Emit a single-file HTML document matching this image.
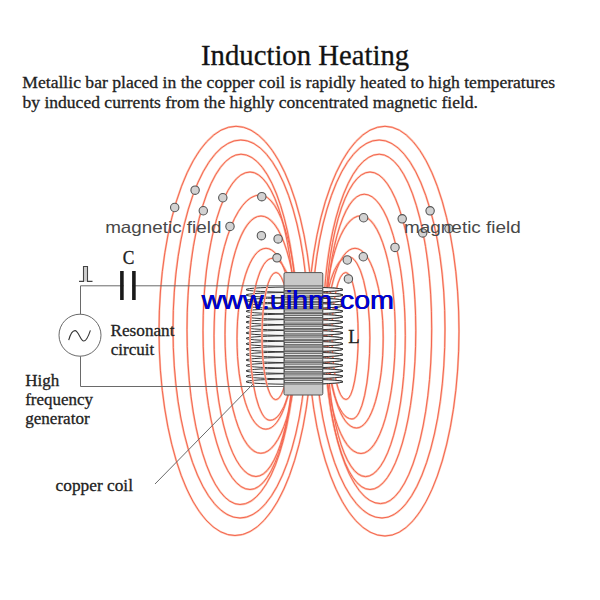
<!DOCTYPE html>
<html><head><meta charset="utf-8"><style>
html,body{margin:0;padding:0;background:#fff;}
svg{display:block;}
.serif{font-family:"Liberation Serif",serif;stroke:#222;stroke-width:0.3px;}
.sans{font-family:"Liberation Sans",sans-serif;}
</style></head><body>
<svg width="600" height="600" viewBox="0 0 600 600">
<rect width="600" height="600" fill="#fff"/>
<text class="serif" x="201" y="65" font-size="28.5" fill="#111" textLength="208.2" lengthAdjust="spacingAndGlyphs">Induction Heating</text>
<text class="serif" x="22.3" y="88.3" font-size="17.5" fill="#222" textLength="532.8" lengthAdjust="spacingAndGlyphs">Metallic bar placed in the copper coil is rapidly heated to high temperatures</text>
<text class="serif" x="22.5" y="108.3" font-size="17.5" fill="#222" textLength="455.5" lengthAdjust="spacingAndGlyphs">by induced currents from the highly concentrated magnetic field.</text>

<!-- coil windings (back) -->
<g fill="#f6f6f6" stroke="#353535" stroke-width="1">
<ellipse cx="294.5" cy="289.60" rx="48.5" ry="2.6"/>
<ellipse cx="294.5" cy="295.02" rx="48.5" ry="2.6"/>
<ellipse cx="294.5" cy="300.44" rx="48.5" ry="2.6"/>
<ellipse cx="294.5" cy="305.85" rx="48.5" ry="2.6"/>
<ellipse cx="294.5" cy="311.27" rx="48.5" ry="2.6"/>
<ellipse cx="294.5" cy="316.69" rx="48.5" ry="2.6"/>
<ellipse cx="294.5" cy="322.11" rx="48.5" ry="2.6"/>
<ellipse cx="294.5" cy="327.52" rx="48.5" ry="2.6"/>
<ellipse cx="294.5" cy="332.94" rx="48.5" ry="2.6"/>
<ellipse cx="294.5" cy="338.36" rx="48.5" ry="2.6"/>
<ellipse cx="294.5" cy="343.78" rx="48.5" ry="2.6"/>
<ellipse cx="294.5" cy="349.19" rx="48.5" ry="2.6"/>
<ellipse cx="294.5" cy="354.61" rx="48.5" ry="2.6"/>
<ellipse cx="294.5" cy="360.03" rx="48.5" ry="2.6"/>
<ellipse cx="294.5" cy="365.45" rx="48.5" ry="2.6"/>
<ellipse cx="294.5" cy="370.86" rx="48.5" ry="2.6"/>
<ellipse cx="294.5" cy="376.28" rx="48.5" ry="2.6"/>
<ellipse cx="294.5" cy="381.70" rx="48.5" ry="2.6"/>
</g>

<!-- field lines -->
<g fill="none" stroke="#fdc4ae" stroke-width="2.1">
<path d="M236.0,126.3 A77.0,204.6 0 0 0 159.0,330.9 A76.0,204.6 0 0 0 235.0,535.5 A77.0,204.6 0 0 0 312.0,330.9 L313.0,330.9 A77.0,204.6 0 0 0 236.0,126.3Z"/>
<path d="M240.8,140.0 A67.8,189.0 0 0 0 173.0,329.0 A67.0,189.0 0 0 0 240.0,518.0 A67.0,189.0 0 0 0 307.0,329.0 L308.3,329.0 A67.5,189.0 0 0 0 240.8,140.0Z"/>
<path d="M241.0,154.2 A54.0,175.2 0 0 0 187.0,329.4 A53.0,175.1 0 0 0 240.0,504.5 A56.0,175.1 0 0 0 296.0,329.4 L297.0,329.4 A56.0,175.2 0 0 0 241.0,154.2Z"/>
<path d="M250.0,172.0 A47.0,158.8 0 0 0 203.0,330.8 A47.0,158.8 0 0 0 250.0,489.5 A45.0,158.8 0 0 0 295.0,330.8 L295.0,330.8 A45.0,158.8 0 0 0 250.0,172.0Z"/>
<path d="M260.0,195.0 A46.0,140.8 0 0 0 214.0,335.8 A42.0,140.8 0 0 0 256.0,476.5 A38.5,140.8 0 0 0 294.5,335.8 L298.5,335.8 A38.5,140.8 0 0 0 260.0,195.0Z"/>
<path d="M261.0,216.0 A36.0,118.6 0 0 0 225.0,334.6 A35.8,118.7 0 0 0 260.8,453.3 A36.5,118.7 0 0 0 297.3,334.6 L297.5,334.6 A36.5,118.6 0 0 0 261.0,216.0Z"/>
<path d="M266.0,248.3 A29.0,90.4 0 0 0 237.0,338.8 A28.8,90.4 0 0 0 265.8,429.2 A28.5,90.4 0 0 0 294.3,338.8 L294.5,338.8 A28.5,90.4 0 0 0 266.0,248.3Z"/>
<path d="M272.5,258.3 A22.5,81.0 0 0 0 250.0,339.3 A20.0,81.0 0 0 0 270.0,420.3 A25.0,81.0 0 0 0 295.0,339.3 L297.5,339.3 A25.0,81.0 0 0 0 272.5,258.3Z"/>
<path d="M276.0,272.5 A14.0,63.6 0 0 0 262.0,336.1 A13.8,63.6 0 0 0 275.8,399.7 A14.0,63.6 0 0 0 289.8,336.1 L290.0,336.1 A14.0,63.6 0 0 0 276.0,272.5Z"/>
<path d="M385.0,126.3 A74.0,204.8 0 0 1 459.0,331.1 A74.0,204.9 0 0 1 385.0,536.0 A77.0,204.9 0 0 1 308.0,331.1 L308.0,331.1 A77.0,204.8 0 0 1 385.0,126.3Z"/>
<path d="M379.2,140.0 A65.8,189.0 0 0 1 445.0,329.0 A63.0,189.0 0 0 1 382.0,518.0 A67.0,189.0 0 0 1 315.0,329.0 L311.7,329.0 A67.5,189.0 0 0 1 379.2,140.0Z"/>
<path d="M379.2,154.2 A52.5,174.7 0 0 1 431.7,328.9 A51.2,174.7 0 0 1 380.5,503.6 A56.0,174.7 0 0 1 324.5,328.9 L323.2,328.9 A56.0,174.7 0 0 1 379.2,154.2Z"/>
<path d="M370.0,172.0 A45.8,158.8 0 0 1 415.8,330.8 A45.8,158.8 0 0 1 370.0,489.5 A45.0,158.8 0 0 1 325.0,330.8 L325.0,330.8 A45.0,158.8 0 0 1 370.0,172.0Z"/>
<path d="M364.2,194.2 A41.1,141.2 0 0 1 405.3,335.4 A39.8,141.2 0 0 1 365.5,476.6 A38.5,141.2 0 0 1 327.0,335.4 L325.7,335.4 A38.5,141.2 0 0 1 364.2,194.2Z"/>
<path d="M360.8,215.8 A34.5,118.8 0 0 1 395.3,334.6 A34.3,118.9 0 0 1 361.0,453.5 A36.5,118.9 0 0 1 324.5,334.6 L324.3,334.6 A36.5,118.8 0 0 1 360.8,215.8Z"/>
<path d="M355.0,248.3 A28.2,89.8 0 0 1 383.2,338.1 A26.7,89.9 0 0 1 356.5,428.0 A28.5,89.9 0 0 1 328.0,338.1 L326.5,338.1 A28.5,89.8 0 0 1 355.0,248.3Z"/>
<path d="M348.3,256.7 A21.6,81.2 0 0 1 369.9,337.9 A17.9,81.1 0 0 1 352.0,419.0 A25.0,81.1 0 0 1 327.0,337.9 L323.3,337.9 A25.0,81.2 0 0 1 348.3,256.7Z"/>
<path d="M345.8,272.5 A12.4,63.5 0 0 1 358.2,336.0 A12.2,63.5 0 0 1 346.0,399.5 A14.0,63.5 0 0 1 332.0,336.0 L331.8,336.0 A14.0,63.5 0 0 1 345.8,272.5Z"/>
</g>
<g fill="none" stroke="#f46450" stroke-width="1.0">
<path d="M236.0,126.3 A77.0,204.6 0 0 0 159.0,330.9 A76.0,204.6 0 0 0 235.0,535.5 A77.0,204.6 0 0 0 312.0,330.9 L313.0,330.9 A77.0,204.6 0 0 0 236.0,126.3Z"/>
<path d="M240.8,140.0 A67.8,189.0 0 0 0 173.0,329.0 A67.0,189.0 0 0 0 240.0,518.0 A67.0,189.0 0 0 0 307.0,329.0 L308.3,329.0 A67.5,189.0 0 0 0 240.8,140.0Z"/>
<path d="M241.0,154.2 A54.0,175.2 0 0 0 187.0,329.4 A53.0,175.1 0 0 0 240.0,504.5 A56.0,175.1 0 0 0 296.0,329.4 L297.0,329.4 A56.0,175.2 0 0 0 241.0,154.2Z"/>
<path d="M250.0,172.0 A47.0,158.8 0 0 0 203.0,330.8 A47.0,158.8 0 0 0 250.0,489.5 A45.0,158.8 0 0 0 295.0,330.8 L295.0,330.8 A45.0,158.8 0 0 0 250.0,172.0Z"/>
<path d="M260.0,195.0 A46.0,140.8 0 0 0 214.0,335.8 A42.0,140.8 0 0 0 256.0,476.5 A38.5,140.8 0 0 0 294.5,335.8 L298.5,335.8 A38.5,140.8 0 0 0 260.0,195.0Z"/>
<path d="M261.0,216.0 A36.0,118.6 0 0 0 225.0,334.6 A35.8,118.7 0 0 0 260.8,453.3 A36.5,118.7 0 0 0 297.3,334.6 L297.5,334.6 A36.5,118.6 0 0 0 261.0,216.0Z"/>
<path d="M266.0,248.3 A29.0,90.4 0 0 0 237.0,338.8 A28.8,90.4 0 0 0 265.8,429.2 A28.5,90.4 0 0 0 294.3,338.8 L294.5,338.8 A28.5,90.4 0 0 0 266.0,248.3Z"/>
<path d="M272.5,258.3 A22.5,81.0 0 0 0 250.0,339.3 A20.0,81.0 0 0 0 270.0,420.3 A25.0,81.0 0 0 0 295.0,339.3 L297.5,339.3 A25.0,81.0 0 0 0 272.5,258.3Z"/>
<path d="M276.0,272.5 A14.0,63.6 0 0 0 262.0,336.1 A13.8,63.6 0 0 0 275.8,399.7 A14.0,63.6 0 0 0 289.8,336.1 L290.0,336.1 A14.0,63.6 0 0 0 276.0,272.5Z"/>
<path d="M385.0,126.3 A74.0,204.8 0 0 1 459.0,331.1 A74.0,204.9 0 0 1 385.0,536.0 A77.0,204.9 0 0 1 308.0,331.1 L308.0,331.1 A77.0,204.8 0 0 1 385.0,126.3Z"/>
<path d="M379.2,140.0 A65.8,189.0 0 0 1 445.0,329.0 A63.0,189.0 0 0 1 382.0,518.0 A67.0,189.0 0 0 1 315.0,329.0 L311.7,329.0 A67.5,189.0 0 0 1 379.2,140.0Z"/>
<path d="M379.2,154.2 A52.5,174.7 0 0 1 431.7,328.9 A51.2,174.7 0 0 1 380.5,503.6 A56.0,174.7 0 0 1 324.5,328.9 L323.2,328.9 A56.0,174.7 0 0 1 379.2,154.2Z"/>
<path d="M370.0,172.0 A45.8,158.8 0 0 1 415.8,330.8 A45.8,158.8 0 0 1 370.0,489.5 A45.0,158.8 0 0 1 325.0,330.8 L325.0,330.8 A45.0,158.8 0 0 1 370.0,172.0Z"/>
<path d="M364.2,194.2 A41.1,141.2 0 0 1 405.3,335.4 A39.8,141.2 0 0 1 365.5,476.6 A38.5,141.2 0 0 1 327.0,335.4 L325.7,335.4 A38.5,141.2 0 0 1 364.2,194.2Z"/>
<path d="M360.8,215.8 A34.5,118.8 0 0 1 395.3,334.6 A34.3,118.9 0 0 1 361.0,453.5 A36.5,118.9 0 0 1 324.5,334.6 L324.3,334.6 A36.5,118.8 0 0 1 360.8,215.8Z"/>
<path d="M355.0,248.3 A28.2,89.8 0 0 1 383.2,338.1 A26.7,89.9 0 0 1 356.5,428.0 A28.5,89.9 0 0 1 328.0,338.1 L326.5,338.1 A28.5,89.8 0 0 1 355.0,248.3Z"/>
<path d="M348.3,256.7 A21.6,81.2 0 0 1 369.9,337.9 A17.9,81.1 0 0 1 352.0,419.0 A25.0,81.1 0 0 1 327.0,337.9 L323.3,337.9 A25.0,81.2 0 0 1 348.3,256.7Z"/>
<path d="M345.8,272.5 A12.4,63.5 0 0 1 358.2,336.0 A12.2,63.5 0 0 1 346.0,399.5 A14.0,63.5 0 0 1 332.0,336.0 L331.8,336.0 A14.0,63.5 0 0 1 345.8,272.5Z"/>
</g>

<!-- right windings over lines -->
<defs><clipPath id="cr"><rect x="323" y="280" width="30" height="110"/></clipPath></defs>
<g fill="#f6f6f6" stroke="#353535" stroke-width="1" clip-path="url(#cr)">
<ellipse cx="294.5" cy="289.60" rx="48.5" ry="2.6"/>
<ellipse cx="294.5" cy="295.02" rx="48.5" ry="2.6"/>
<ellipse cx="294.5" cy="300.44" rx="48.5" ry="2.6"/>
<ellipse cx="294.5" cy="305.85" rx="48.5" ry="2.6"/>
<ellipse cx="294.5" cy="311.27" rx="48.5" ry="2.6"/>
<ellipse cx="294.5" cy="316.69" rx="48.5" ry="2.6"/>
<ellipse cx="294.5" cy="322.11" rx="48.5" ry="2.6"/>
<ellipse cx="294.5" cy="327.52" rx="48.5" ry="2.6"/>
<ellipse cx="294.5" cy="332.94" rx="48.5" ry="2.6"/>
<ellipse cx="294.5" cy="338.36" rx="48.5" ry="2.6"/>
<ellipse cx="294.5" cy="343.78" rx="48.5" ry="2.6"/>
<ellipse cx="294.5" cy="349.19" rx="48.5" ry="2.6"/>
<ellipse cx="294.5" cy="354.61" rx="48.5" ry="2.6"/>
<ellipse cx="294.5" cy="360.03" rx="48.5" ry="2.6"/>
<ellipse cx="294.5" cy="365.45" rx="48.5" ry="2.6"/>
<ellipse cx="294.5" cy="370.86" rx="48.5" ry="2.6"/>
<ellipse cx="294.5" cy="376.28" rx="48.5" ry="2.6"/>
<ellipse cx="294.5" cy="381.70" rx="48.5" ry="2.6"/>
</g>
<!-- core bar -->
<rect x="284" y="272.6" width="38.8" height="122.4" rx="1.5" fill="#c8c8c8" stroke="#555" stroke-width="1"/>
<g stroke="#505050" stroke-width="0.85">
<line x1="284" y1="285.9" x2="323" y2="285.9"/>
<rect x="284.5" y="288.30" width="38" height="2.2" fill="#e4e4e4"/>
<line x1="284" y1="291.90" x2="323" y2="291.90"/>
<rect x="284.5" y="293.72" width="38" height="2.2" fill="#e4e4e4"/>
<line x1="284" y1="297.32" x2="323" y2="297.32"/>
<rect x="284.5" y="299.14" width="38" height="2.2" fill="#e4e4e4"/>
<line x1="284" y1="302.74" x2="323" y2="302.74"/>
<rect x="284.5" y="304.55" width="38" height="2.2" fill="#e4e4e4"/>
<line x1="284" y1="308.15" x2="323" y2="308.15"/>
<rect x="284.5" y="309.97" width="38" height="2.2" fill="#e4e4e4"/>
<line x1="284" y1="313.57" x2="323" y2="313.57"/>
<rect x="284.5" y="315.39" width="38" height="2.2" fill="#e4e4e4"/>
<line x1="284" y1="318.99" x2="323" y2="318.99"/>
<rect x="284.5" y="320.81" width="38" height="2.2" fill="#e4e4e4"/>
<line x1="284" y1="324.41" x2="323" y2="324.41"/>
<rect x="284.5" y="326.22" width="38" height="2.2" fill="#e4e4e4"/>
<line x1="284" y1="329.82" x2="323" y2="329.82"/>
<rect x="284.5" y="331.64" width="38" height="2.2" fill="#e4e4e4"/>
<line x1="284" y1="335.24" x2="323" y2="335.24"/>
<rect x="284.5" y="337.06" width="38" height="2.2" fill="#e4e4e4"/>
<line x1="284" y1="340.66" x2="323" y2="340.66"/>
<rect x="284.5" y="342.48" width="38" height="2.2" fill="#e4e4e4"/>
<line x1="284" y1="346.08" x2="323" y2="346.08"/>
<rect x="284.5" y="347.89" width="38" height="2.2" fill="#e4e4e4"/>
<line x1="284" y1="351.49" x2="323" y2="351.49"/>
<rect x="284.5" y="353.31" width="38" height="2.2" fill="#e4e4e4"/>
<line x1="284" y1="356.91" x2="323" y2="356.91"/>
<rect x="284.5" y="358.73" width="38" height="2.2" fill="#e4e4e4"/>
<line x1="284" y1="362.33" x2="323" y2="362.33"/>
<rect x="284.5" y="364.15" width="38" height="2.2" fill="#e4e4e4"/>
<line x1="284" y1="367.75" x2="323" y2="367.75"/>
<rect x="284.5" y="369.56" width="38" height="2.2" fill="#e4e4e4"/>
<line x1="284" y1="373.16" x2="323" y2="373.16"/>
<rect x="284.5" y="374.98" width="38" height="2.2" fill="#e4e4e4"/>
<line x1="284" y1="378.58" x2="323" y2="378.58"/>
<rect x="284.5" y="380.40" width="38" height="2.2" fill="#e4e4e4"/>
<line x1="284" y1="384.00" x2="323" y2="384.00"/>
</g>

<!-- circuit -->
<g stroke="#6a6a6a" stroke-width="1" fill="none">
<polyline points="284,285.8 80.5,285.8 80.5,314.2"/>
<polyline points="80.5,356.3 80.5,386.5 284,386.5"/>
<circle cx="80" cy="335.2" r="21"/>
<path d="M68.7,340.2 C70.5,333.5 72.5,330.6 75,330.6 C78.5,330.6 80.5,341 83.7,341 C86.5,341 88.5,336 90.4,330.3" stroke="#333" stroke-width="1.1"/>
<line x1="155" y1="484" x2="253" y2="384"/>
<polyline points="79,281.4 83.5,281.4 83.5,266.5 87.5,266.5 87.5,281.4 92.5,281.4" stroke-width="1.1" stroke="#444" fill="#d0d0d0"/>
</g>
<rect x="123.7" y="279" width="8.4" height="14" fill="#fff"/>
<rect x="120.1" y="271" width="3.6" height="29" fill="#1a1a1a"/>
<rect x="132.1" y="271" width="3.6" height="29" fill="#1a1a1a"/>

<g class="serif" font-size="17" fill="#222">
<text x="122.8" y="263.8" font-size="18" textLength="11.6" lengthAdjust="spacingAndGlyphs">C</text>
<text x="110.5" y="335.5" textLength="64" lengthAdjust="spacingAndGlyphs">Resonant</text>
<text x="110.8" y="354.5" textLength="43.5" lengthAdjust="spacingAndGlyphs">circuit</text>
<text x="25.2" y="385.5">High</text>
<text x="25.2" y="404.7" textLength="67.8" lengthAdjust="spacingAndGlyphs">frequency</text>
<text x="25.2" y="423.5" textLength="64.5" lengthAdjust="spacingAndGlyphs">generator</text>
<text x="55.6" y="490.6" textLength="77.4" lengthAdjust="spacingAndGlyphs">copper coil</text>
<text x="348.2" y="343.2" font-size="18.5">L</text>
</g>

<!-- dots -->
<g fill="#d2d2d2" stroke="#555" stroke-width="1.1">
<circle cx="174.7" cy="207.5" r="4.2"/>
<circle cx="195.1" cy="190.2" r="4.2"/>
<circle cx="203.3" cy="210.75" r="4.2"/>
<circle cx="222.8" cy="197.75" r="4.2"/>
<circle cx="261.8" cy="196.7" r="4.2"/>
<circle cx="230" cy="226.4" r="4.2"/>
<circle cx="261.4" cy="235.7" r="4.2"/>
<circle cx="278.1" cy="238.9" r="4.2"/>
<circle cx="277" cy="257.8" r="4.2"/>
<circle cx="363.6" cy="217.75" r="4.2"/>
<circle cx="402.2" cy="218.8" r="4.2"/>
<circle cx="430.1" cy="210.8" r="4.2"/>
<circle cx="395" cy="247.4" r="4.2"/>
<circle cx="363.3" cy="256.75" r="4.2"/>
<circle cx="347.3" cy="260" r="4.2"/>
<circle cx="348.4" cy="278.9" r="4.2"/>
<circle cx="422.7" cy="232.9" r="4.2"/>
<circle cx="449" cy="228.6" r="4.2"/>
</g>

<g class="sans" font-size="16.5" fill="#484848">
<text x="105.2" y="232.6" textLength="116.2" lengthAdjust="spacingAndGlyphs">magnetic field</text>
<text x="404" y="232.5" textLength="116.8" lengthAdjust="spacingAndGlyphs">magnetic field</text>
</g>

<text class="sans" x="201.2" y="309.0" font-size="25" fill="#000030" stroke="none" textLength="192.5" lengthAdjust="spacingAndGlyphs">www.uihm.com</text>
<text class="sans" x="201.9" y="308.8" font-size="25" fill="#0000d8" textLength="192.5" lengthAdjust="spacingAndGlyphs">www.uihm.com</text>
</svg>
</body></html>
